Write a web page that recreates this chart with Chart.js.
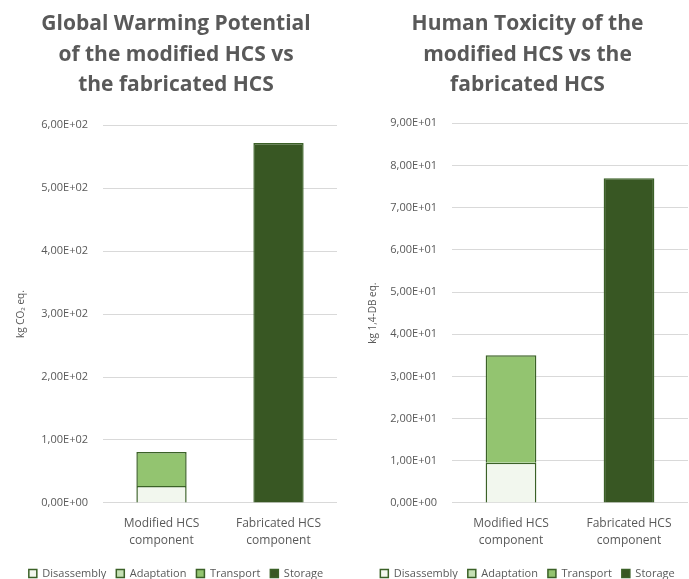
<!DOCTYPE html>
<html>
<head>
<meta charset="utf-8">
<script src="https://cdn.jsdelivr.net/npm/chart.js@4"></script>
<style>
	html, body { margin: 0; padding: 0; background: #fff; }
	.wrap { display: flex; width: 689px; height: 579px; }
	.box { position: relative; height: 579px; }
</style>
</head>
<body>
<div class="wrap">
	<div class="box" style="width:345px"><canvas id="gwp"></canvas></div>
	<div class="box" style="width:344px"><canvas id="ht"></canvas></div>
</div>
<script>
const categories = [['Modified HCS', 'component'], ['Fabricated HCS', 'component']]
const stages = ['Disassembly', 'Adaptation', 'Transport', 'Storage']
const stageColors = ['#F2F7EE', '#C5E0B4', '#93C470', '#385723']

// kg CO2 eq.
const gwpDisassembly = [27, null]
const gwpAdaptation = [null, null]
const gwpTransport = [54, null]
const gwpStorage = [null, 572]

// kg 1,4-DB eq.
const htDisassembly = [9.5, null]
const htAdaptation = [null, null]
const htTransport = [25.5, null]
const htStorage = [null, 77]

const grey = '#595959'

Chart.defaults.font.family = 'Open Sans'
Chart.defaults.color = grey

const sci = v => {
	if (v === 0) return '0,00E+00'
	const e = Math.floor(Math.log10(Math.abs(v)))
	const m = v / Math.pow(10, e)
	return m.toFixed(2).replace('.', ',') + 'E+' + String(e).padStart(2, '0')
}

const makeChart = (target, titleLines, yTitle, series, max, step, opts) => {
	new Chart(target, {
		type: 'bar',
		data: {
			labels: categories,
			datasets: series.map((d, i) => ({
				label: stages[i],
				data: d,
				backgroundColor: stageColors[i],
				borderColor: '#3B6127',
				borderWidth: 1.5,
				barPercentage: 0.43,
				categoryPercentage: 1,
			})),
		},
		options: {
			responsive: true,
			maintainAspectRatio: false,
			animation: false,
			layout: { padding: { left: opts.padLeft, right: opts.padRight, top: 0, bottom: -10 } },
			plugins: {
				title: {
					display: true,
					text: titleLines,
					color: grey,
					font: { size: 21, weight: 'bold', lineHeight: 1.45 },
					padding: { top: 9, bottom: opts.titleGap },
				},
				legend: {
					position: 'bottom',
					labels: {
						boxWidth: 8,
						boxHeight: 8,
						padding: 10,
						color: grey,
						font: { size: 11 },
					},
				},
				tooltip: { enabled: false },
			},
			scales: {
				x: {
					stacked: true,
					grid: { display: false, drawTicks: false },
					border: { display: false },
					afterFit: scale => { scale.height -= 3 },
					ticks: { color: grey, font: { size: 12, lineHeight: 1.42 }, padding: 12, maxRotation: 0 },
				},
				y: {
					stacked: true,
					min: 0,
					max: max,
					afterFit: scale => { scale.width = opts.axisWidth },
					grid: { color: '#D9D9D9', drawTicks: false },
					border: { display: false },
					ticks: { stepSize: step, color: grey, font: { size: 11 }, padding: 15, callback: v => sci(v) },
					title: { display: true, text: yTitle, color: grey, font: { size: 10 }, padding: { top: 0, bottom: 0 } },
				},
			},
		},
	})
}

makeChart(
	document.getElementById('gwp'),
	['Global Warming Potential', 'of the modified HCS vs', 'the fabricated HCS'],
	'kg CO\u2082 eq.',
	[gwpDisassembly, gwpAdaptation, gwpTransport, gwpStorage],
	600, 100,
	{ padLeft: 15, padRight: 8, axisWidth: 88, titleGap: 25 }
)

makeChart(
	document.getElementById('ht'),
	['Human Toxicity of the', 'modified HCS vs the', 'fabricated HCS'],
	'kg 1,4-DB eq.',
	[htDisassembly, htAdaptation, htTransport, htStorage],
	90, 10,
	{ padLeft: 22, padRight: 1, axisWidth: 85, titleGap: 23 }
)
</script>
</body>
</html>
